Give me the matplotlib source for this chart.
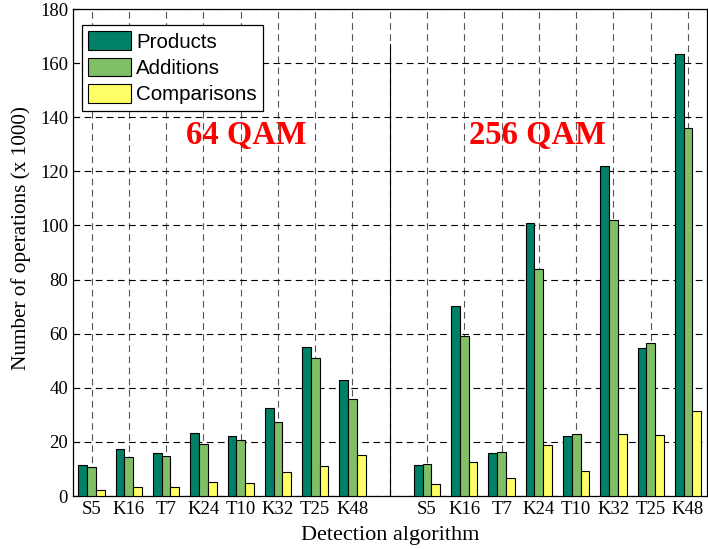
import matplotlib
matplotlib.use("Agg")
import matplotlib.pyplot as plt
import numpy as np

labels = ["S5", "K16", "T7", "K24", "T10", "K32", "T25", "K48"]
prod_64 = [11.4, 17.4, 15.8, 23.4, 22.2, 32.6, 55.0, 42.9]
add_64 = [10.8, 14.3, 14.7, 19.1, 20.7, 27.2, 50.9, 36.0]
comp_64 = [2.2, 3.4, 3.4, 5.0, 4.7, 8.8, 11.1, 15.0]
prod_256 = [11.5, 70.1, 15.8, 100.8, 22.2, 122.0, 54.8, 163.3]
add_256 = [11.8, 59.0, 16.1, 83.9, 22.9, 101.9, 56.7, 136.1]
comp_256 = [4.6, 12.6, 6.5, 18.7, 9.1, 22.9, 22.5, 31.4]
series_names = ["Products", "Additions", "Comparisons"]
colors = ["#008066", "#80BF66", "#FFFF66"]

fig = plt.figure(figsize=(7.08, 5.49), dpi=100)
ax = fig.add_axes([0.103, 0.0965, 0.895, 0.887])

pos64 = np.arange(1, 9)
pos256 = np.arange(10, 18)
w = 0.235
prods = prod_64 + prod_256
adds = add_64 + add_256
comps = comp_64 + comp_256
pos = np.concatenate([pos64, pos256])
for k, (vals, c, name) in enumerate(zip([prods, adds, comps], colors, series_names)):
    ax.bar(pos + (k - 1) * w, vals, width=w, color=c, edgecolor="k", linewidth=0.8,
           label=name, zorder=3)

ax.plot([9, 9], [0, 167], color="k", linewidth=0.8, zorder=3)

ax.set_xlim(0.5, 17.5)
ax.set_ylim(0, 180)
ax.set_xticks(np.arange(1, 18))
ax.set_xticklabels(labels + [""] + labels)
ax.set_yticks(np.arange(0, 181, 20))
ax.tick_params(direction="in", length=4, width=0.8, labelsize=13.5)
for t in ax.get_xticklabels() + ax.get_yticklabels():
    t.set_fontfamily("Liberation Serif")

ax.yaxis.grid(True, color="k", linestyle=(0, (6, 4)), linewidth=0.8, zorder=1)
ax.xaxis.grid(True, color="#555555", linestyle=(0, (6, 4)), linewidth=0.8, zorder=1)
for s in ax.spines.values():
    s.set_linewidth(0.9)

ax.set_xlabel("Detection algorithm", fontfamily="Liberation Serif", fontsize=16, labelpad=6)
ax.set_ylabel("Number of operations (x 1000)", fontfamily="Liberation Serif", fontsize=15.3)
ax.yaxis.set_label_coords(-0.066, 0.529)

ax.text(5.16, 133.4, "64 QAM", color="red", fontsize=23.5, fontweight="bold",
        fontfamily="Liberation Serif", ha="center", va="center", zorder=4)
ax.text(12.97, 133.4, "256 QAM", color="red", fontsize=23.5, fontweight="bold",
        fontfamily="Liberation Serif", ha="center", va="center", zorder=4)

leg = ax.legend(loc="upper left", bbox_to_anchor=(0.014, 0.967), prop={"family": "Liberation Sans", "size": 14.8},
                fancybox=False, edgecolor="k", framealpha=1, borderpad=0.3,
                labelspacing=0.3, handlelength=2.1, handleheight=1.0, handletextpad=0.25,
                borderaxespad=0)
leg.get_frame().set_linewidth(0.9)
leg.set_zorder(5)

fig.savefig("out.png", dpi=100)
